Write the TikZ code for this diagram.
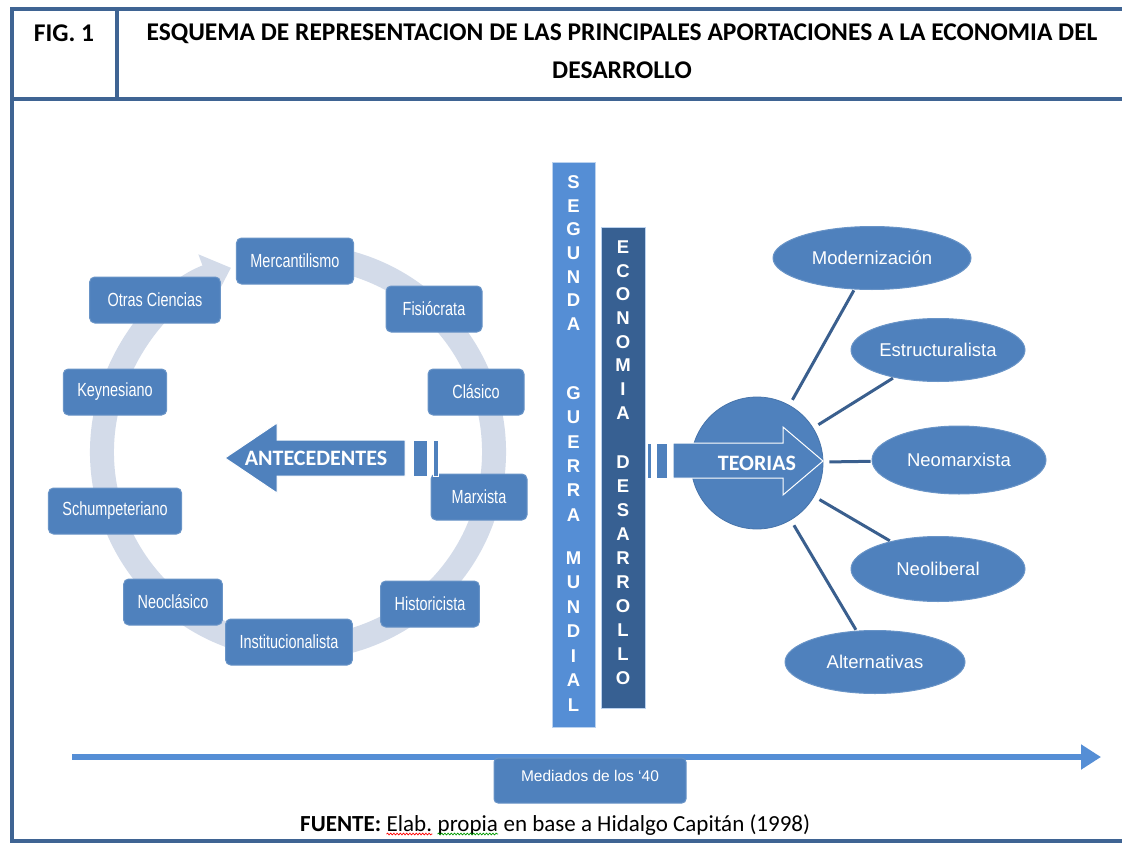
\documentclass[tikz,border=0pt]{standalone}
\usepackage{fontspec}
\setmainfont{Carlito}
\newfontfamily\arialfont{Liberation Sans}
\newfontfamily\narrowfont[FakeStretch=0.76]{Liberation Sans}
\usetikzlibrary{arrows.meta,shapes.geometric,positioning,decorations.pathmorphing}

\definecolor{marco}{HTML}{3F6493}
\definecolor{azul}{HTML}{4F81BD}
\definecolor{azulclaro}{HTML}{558ED5}
\definecolor{azuloscuro}{HTML}{376092}
\definecolor{anillo}{HTML}{D3DBE9}
\definecolor{rayo}{HTML}{3A5F8E}

\tikzset{
  titulo/.style={font=\bfseries\fontsize{25.5}{38}\selectfont, inner sep=0pt},
  escuela/.style={fill=azul, draw=azul!85!white, line width=1pt, rounded corners=5pt,
    text=white, font=\narrowfont\fontsize{19}{19}\selectfont,
    minimum width=96pt, minimum height=46pt, inner xsep=14pt},
  teoria/.style={ellipse, fill=azul, draw=azul!85!white, line width=1pt, inner sep=0pt,
    text=white, font=\arialfont\fontsize{18.5}{18.5}\selectfont,
    minimum width=174pt, minimum height=63pt},
  barra/.style={draw=white!60!azulclaro, line width=0.8pt, inner sep=0pt, minimum width=43pt},
  letra/.style={text=white, font=\arialfont\bfseries\fontsize{18.5}{18.5}\selectfont, inner sep=0pt},
  bloque/.style={fill=azul, draw=white, line width=1pt},
  flechatxt/.style={text=white, font=\bfseries\fontsize{22}{22}\selectfont, inner sep=0pt},
  fuentetxt/.style={anchor=base west, inner sep=0pt, font=\fontsize{23}{23}\selectfont},
  radio/.style={draw=rayo, line width=3pt, shorten <=6pt, shorten >=1pt},
  subrayado/.style={decorate, decoration={snake, amplitude=0.9pt, segment length=3.2pt}, line width=0.7pt},
}

\begin{document}
\begin{tikzpicture}[x=1pt,y=-1pt]
\useasboundingbox (0,0) rectangle (1122,843);

\draw[marco, line width=4pt] (12,9) rectangle (1134,841);
\draw[marco, line width=4pt] (12,99) -- (1134,99);
\draw[marco, line width=4pt] (117,9) -- (117,99);
\node[titulo] (fig) at (64,33) {FIG. 1};
\node[titulo, align=center] (tit) at (622,51)
  {ESQUEMA DE REPRESENTACION DE LAS PRINCIPALES APORTACIONES A LA ECONOMIA DEL\\DESARROLLO};

% ciclo de antecedentes
\coordinate (centro) at (298,452);
\draw[anillo, line width=24pt, -{Triangle[width=46pt,length=26pt]}]
  (centro) ++(-75:196) arc[start angle=-75, end angle=250, radius=196];

\node[escuela] (merc) at (295,261) {Mercantilismo};
\node[escuela] (fisio) at (434,309) {Fisiócrata};
\node[escuela] (clas) at (476,392) {Clásico};
\node[escuela] (marx) at (479,497) {Marxista};
\node[escuela] (hist) at (430,604) {Historicista};
\node[escuela] (inst) at (289,642) {Institucionalista};
\node[escuela] (neocl) at (173,602) {Neoclásico};
\node[escuela] (schum) at (115,511) {Schumpeteriano};
\node[escuela] (keyn) at (115,392) {Keynesiano};
\node[escuela, inner xsep=18pt] (otras) at (155,300) {Otras Ciencias};

\draw[bloque] (405,440) -- (277,440) -- (277,423) -- (225,458) -- (277,493) -- (277,476) -- (405,476) -- cycle;
\draw[bloque] (413,440) rectangle (427,476);
\draw[bloque] (433,440) rectangle (438,476);
\node[flechatxt] (antec) at (316,458) {ANTECEDENTES};

% barras verticales
\node[barra, fill=azulclaro, minimum height=565pt] (guerra) at (573.5,444.5) {};
\node[barra, fill=azuloscuro, minimum height=481pt, minimum width=44pt] (ecodes) at (623,467.5) {};
\foreach \l [count=\i] in {S,E,G,U,N,D,A}
  \node[letra] (seg\i) at (573.5,{182+23.7*(\i-1)}) {\l};
\foreach \l [count=\i] in {G,U,E,R,R,A}
  \node[letra] (gue\i) at (573.5,{393+24.4*(\i-1)}) {\l};
\foreach \l [count=\i] in {M,U,N,D,I,A,L}
  \node[letra] (mun\i) at (573.5,{558+24.5*(\i-1)}) {\l};
\foreach \l [count=\i] in {E,C,O,N,O,M,I,A}
  \node[letra] (eco\i) at (623,{247+23.7*(\i-1)}) {\l};
\foreach \l [count=\i] in {D,E,S,A,R,R,O,L,L,O}
  \node[letra] (des\i) at (623,{462+24*(\i-1)}) {\l};

% teorias
\node[circle, fill=azul, draw=azul!90!black, line width=0.8pt, minimum size=132pt, inner sep=0pt] (teo) at (757,463) {};
\draw[bloque] (647,443) rectangle (651,478);
\draw[bloque] (656,443) rectangle (667,478);
\draw[bloque] (673,443) -- (783,443) -- (783,427) -- (823,461) -- (783,495) -- (783,478) -- (673,478) -- cycle;
\node[flechatxt] (teotxt) at (757,463) {TEORIAS};

\node[teoria, minimum width=198pt] (moder) at (872,258) {Modernización};
\node[teoria] (estru) at (938,350) {Estructuralista};
\node[teoria, minimum height=68pt] (neomar) at (959,460) {Neomarxista};
\node[teoria, minimum height=65pt] (neolib) at (938,569) {Neoliberal};
\node[teoria, minimum width=180pt] (alter) at (875,662) {Alternativas};

\draw[radio] (teo) -- (moder);
\draw[radio] (teo) -- (estru);
\draw[radio] (teo) -- (neomar);
\draw[radio] (teo) -- (neolib);
\draw[radio] (teo) -- (alter);

% eje temporal
\coordinate (ini) at (72,757);
\coordinate (fin) at (1101,757);
\draw[azulclaro, line width=6pt, -{Triangle[width=24pt,length=20pt]}] (ini) -- (fin);
\node[fill=azul, draw=azul!85!white, line width=1pt, rounded corners=4pt, minimum width=192pt, minimum height=45pt,
  text depth=9pt, text=white, font=\arialfont\fontsize{15.5}{15.5}\selectfont] (mediados) at (590,780.5) {Mediados de los ‘40};

% fuente
\node[fuentetxt] (fuente) at (300,831) {\textbf{FUENTE:}};
\node[fuentetxt] (elab) at ([xshift=5.2pt]fuente.base east) {Elab.};
\node[fuentetxt] (propia) at ([xshift=5.2pt]elab.base east) {propia};
\node[fuentetxt] (resto) at ([xshift=5.2pt]propia.base east) {en base a Hidalgo Capitán (1998)};
\draw[subrayado, red] ([yshift=-3pt]elab.base west) -- ([yshift=-3pt]elab.base east);
\draw[subrayado, green!60!black] ([yshift=-3pt]propia.base west) -- ([yshift=-3pt]propia.base east);
\end{tikzpicture}
\end{document}
